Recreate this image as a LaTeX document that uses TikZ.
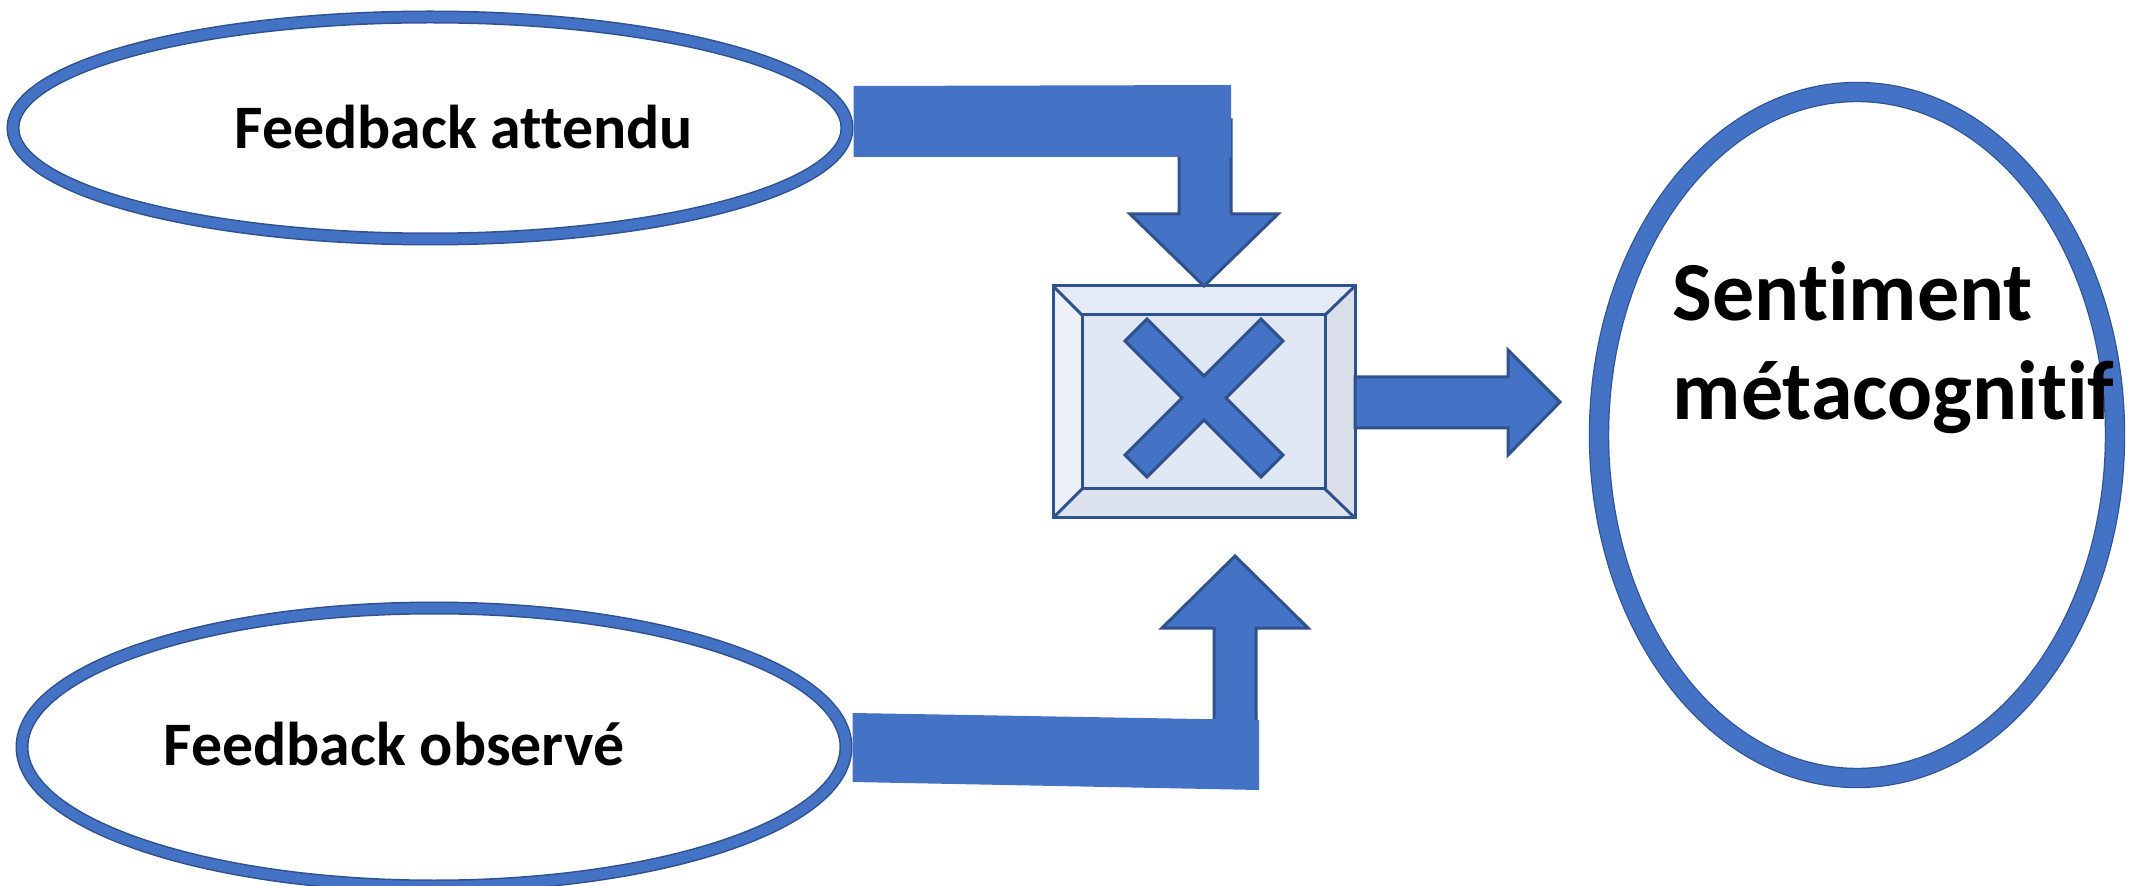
\documentclass[tikz,border=0pt]{standalone}
\usepackage{fontspec}
\setmainfont{Carlito}[Ligatures=NoCommon]
\usetikzlibrary{shapes.geometric,calc,positioning}

\definecolor{accent}{HTML}{4472C4}
\definecolor{accentdark}{HTML}{2F528F}
\definecolor{bevface}{HTML}{E0E7F4}
\definecolor{bevtop}{HTML}{E4EAF6}
\definecolor{bevleft}{HTML}{EBF0F9}
\definecolor{bevright}{HTML}{D9DEE8}
\definecolor{bevbottom}{HTML}{DCE2EE}

\tikzset{
  ring/.style={ellipse, draw=accentdark, line width=0.15mm, double=accent,
    double distance=1mm, fill=white, inner sep=0, outer sep=0.65mm},
  bigring/.style={ring, line width=0.12mm, double distance=1.8mm, outer sep=1.02mm},
  lbl/.style={font=\fontsize{17.6}{21}\selectfont\bfseries, inner sep=0, anchor=base west},
  biglbl/.style={font=\fontsize{23.9}{28.45}\selectfont\bfseries, inner sep=0,
    align=left, anchor=base west},
  blockarrow/.style={fill=accent, draw=accentdark, line width=0.3mm, line join=miter},
  edge/.style={draw=accentdark, line width=0.3mm},
  multbox/.style={rectangle, minimum width=30.2mm, minimum height=23.2mm,
    fill=bevface, inner sep=0, outer sep=0},
}

\begin{document}
\begin{tikzpicture}[x=0.1mm, y=-0.1mm]
\useasboundingbox (0,0) rectangle (2134,886);

% the two feedbacks and the resulting feeling
\node[ring, minimum width=83.4mm, minimum height=22.2mm] (attendu) at (430,128) {};
\node[ring, minimum width=82.4mm, minimum height=27.8mm] (observe) at (434,747) {};
\node[bigring, minimum width=51.6mm, minimum height=68.6mm] (sentiment) at (1857,435) {};

\node[lbl] (attendulbl) at (234,149) {Feedback attendu};
\node[lbl] (observelbl) at (163,765) {Feedback observé};
% base sits on the last line here
\node[biglbl] (sentimentlbl) at (1672,420) {Sentiment\\métacognitif};

% bevelled multiply box
\node[multbox] (mult) at (1204,402) {};
\coordinate (inw) at ($(mult.north west)+(29,29)$);
\coordinate (ine) at ($(mult.north east)+(-30,29)$);
\coordinate (isw) at ($(mult.south west)+(29,-29)$);
\coordinate (ise) at ($(mult.south east)+(-30,-29)$);
\fill[bevtop] (mult.north west) -- (mult.north east) -- (ine) -- (inw) -- cycle;
\fill[bevleft] (mult.north west) -- (inw) -- (isw) -- (mult.south west) -- cycle;
\fill[bevright] (mult.north east) -- (mult.south east) -- (ise) -- (ine) -- cycle;
\fill[bevbottom] (mult.south west) -- (isw) -- (ise) -- (mult.south east) -- cycle;
\draw[edge] (mult.north west) rectangle (mult.south east) (inw) rectangle (ise);
\draw[edge] (mult.north west) -- (inw) (mult.north east) -- (ine)
  (mult.south west) -- (isw) (mult.south east) -- (ise);

% times sign
\filldraw[blockarrow, shift={($(mult.center)+(0,-4)$)}]
  (0,-22) -- (57,-79) -- (79,-57) -- (22,0) -- (79,57) -- (57,79) -- (0,22)
  -- (-57,79) -- (-79,57) -- (-22,0) -- (-79,-57) -- (-57,-79) -- cycle;

% expected feedback into the box
\filldraw[blockarrow] (1179,120) -- (1179,214) -- (1130,214) -- (mult.north)
  -- (1278,214) -- (1231,214) -- (1231,120) -- cycle;
\fill[accent] (attendu.east |- 0,86) -- (1231,85) -- (1231,157) -- (attendu.east |- 0,157) -- cycle;

% observed feedback into the box
\coordinate (uptip) at (1235,556);
\filldraw[blockarrow] (1214,750) -- (1214,628) -- (1162,628) -- (uptip)
  -- (1308,628) -- (1256,628) -- (1256,750) -- cycle;
\fill[accent] (observe.east |- 0,713) -- (1259,720) -- (1259,790) -- (observe.east |- 0,782) -- cycle;

% product towards the feeling
\coordinate (outtip) at (1560,402);
\filldraw[blockarrow] (mult.east |- 0,377) -- (1508,377) -- (1508,350) -- (outtip)
  -- (1508,455) -- (1508,428) -- (mult.east |- 0,428) -- cycle;
\end{tikzpicture}
\end{document}
